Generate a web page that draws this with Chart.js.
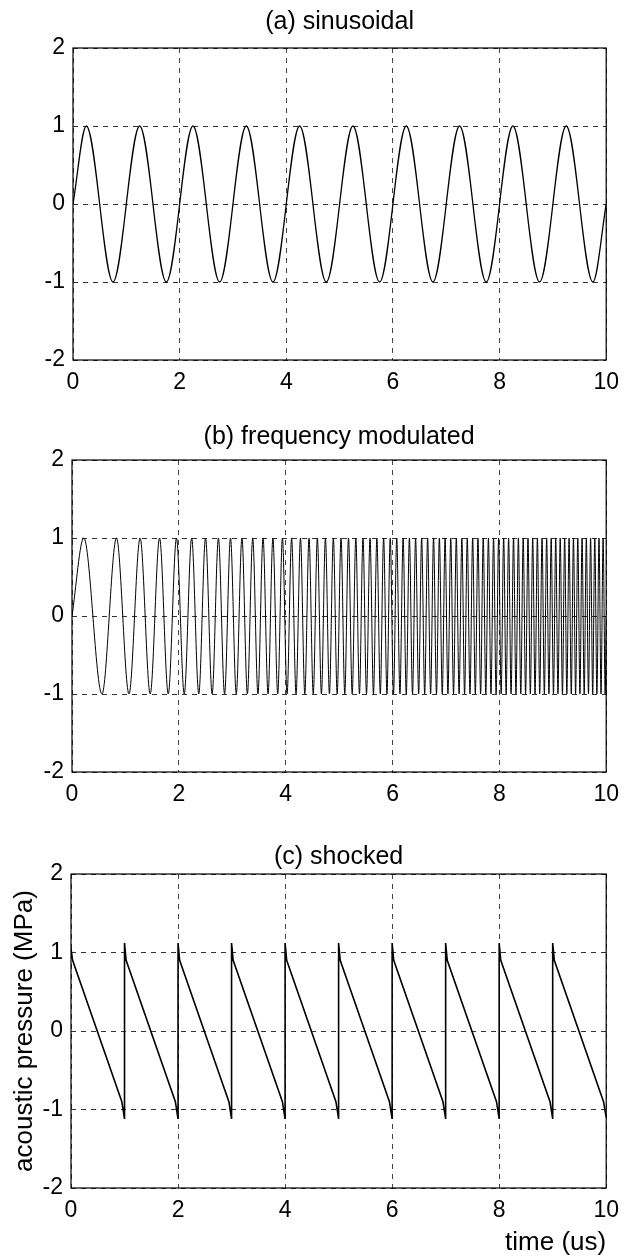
<!DOCTYPE html>
<html>
<head>
<meta charset="utf-8">
<script src="https://cdn.jsdelivr.net/npm/chart.js@4.4.1/dist/chart.umd.min.js"></script>
<style>
html,body{margin:0;padding:0;background:#fff;}
body{width:628px;height:1256px;position:relative;overflow:hidden;}
canvas{position:absolute;left:0;}
</style>
</head>
<body>
<canvas id="chartA" style="top:0px" width="628" height="410"></canvas>
<canvas id="chartB" style="top:410px" width="628" height="420"></canvas>
<canvas id="chartC" style="top:826px" width="628" height="430"></canvas>
<script>
// ---------- data ----------
const panelTitles = ['(a) sinusoidal', '(b) frequency modulated', '(c) shocked'];
const xAxisTitle = 'time (us)';
const yAxisTitle = 'acoustic pressure (MPa)';
const xTickValues = [0, 2, 4, 6, 8, 10];
const yTickValues = [-2, -1, 0, 1, 2];

// (a) sinusoidal: extrema of the 1 MHz wave (time in us, pressure in MPa)
const timeA = [0, 0.25, 0.75, 1.25, 1.75, 2.25, 2.75, 3.25, 3.75, 4.25, 4.75,
  5.25, 5.75, 6.25, 6.75, 7.25, 7.75, 8.25, 8.75, 9.25, 9.75, 10];
const pressureA = [0, 1, -1, 1, -1, 1, -1, 1, -1, 1, -1,
  1, -1, 1, -1, 1, -1, 1, -1, 1, -1, 0];

// (b) frequency modulated: extrema of the chirp
const timeB = [0, 0.221, 0.561, 0.833, 1.067, 1.275, 1.464, 1.639, 1.802, 1.956, 2.101,
  2.240, 2.373, 2.500, 2.623, 2.741, 2.856, 2.967, 3.075, 3.181, 3.283,
  3.383, 3.481, 3.576, 3.670, 3.761, 3.851, 3.939, 4.026, 4.111, 4.194,
  4.277, 4.358, 4.437, 4.516, 4.593, 4.669, 4.744, 4.819, 4.892, 4.964,
  5.036, 5.106, 5.176, 5.245, 5.313, 5.381, 5.447, 5.513, 5.579, 5.643,
  5.707, 5.771, 5.833, 5.896, 5.957, 6.018, 6.079, 6.139, 6.198, 6.257,
  6.316, 6.374, 6.432, 6.489, 6.545, 6.602, 6.657, 6.713, 6.768, 6.823,
  6.877, 6.931, 6.984, 7.037, 7.090, 7.142, 7.194, 7.246, 7.298, 7.349,
  7.399, 7.450, 7.500, 7.550, 7.599, 7.649, 7.698, 7.746, 7.795, 7.843,
  7.891, 7.939, 7.986, 8.033, 8.080, 8.127, 8.173, 8.219, 8.265, 8.311,
  8.356, 8.401, 8.446, 8.491, 8.536, 8.580, 8.624, 8.668, 8.712, 8.755,
  8.799, 8.842, 8.885, 8.928, 8.970, 9.013, 9.055, 9.097, 9.139, 9.181,
  9.222, 9.263, 9.305, 9.346, 9.387, 9.427, 9.468, 9.508, 9.548, 9.588,
  9.628, 9.668, 9.708, 9.747, 9.786, 9.826, 9.865, 9.903, 9.942, 9.981, 10];
const pressureB = [0, 1, -1, 1, -1, 1, -1, 1, -1, 1, -1,
  1, -1, 1, -1, 1, -1, 1, -1, 1, -1,
  1, -1, 1, -1, 1, -1, 1, -1, 1, -1,
  1, -1, 1, -1, 1, -1, 1, -1, 1, -1,
  1, -1, 1, -1, 1, -1, 1, -1, 1, -1,
  1, -1, 1, -1, 1, -1, 1, -1, 1, -1,
  1, -1, 1, -1, 1, -1, 1, -1, 1, -1,
  1, -1, 1, -1, 1, -1, 1, -1, 1, -1,
  1, -1, 1, -1, 1, -1, 1, -1, 1, -1,
  1, -1, 1, -1, 1, -1, 1, -1, 1, -1,
  1, -1, 1, -1, 1, -1, 1, -1, 1, -1,
  1, -1, 1, -1, 1, -1, 1, -1, 1, -1,
  1, -1, 1, -1, 1, -1, 1, -1, 1, -1,
  1, -1, 1, -1, 1, -1, 1, -1, 1, -1, 0];

// (c) shocked: sawtooth with shock fronts every 1 us
const timeC = [0, 0.03, 0.95, 1, 1, 1.03, 1.95, 2, 2, 2.03, 2.95, 3, 3, 3.03,
  3.95, 4, 4, 4.03, 4.95, 5, 5, 5.03, 5.95, 6, 6, 6.03, 6.95, 7, 7, 7.03,
  7.95, 8, 8, 8.03, 8.95, 9, 9, 9.03, 9.95, 10];
const pressureC = [1.05, 0.9, -0.9, -1.12, 1.12, 0.9, -0.9, -1.12, 1.12, 0.9, -0.9, -1.12, 1.12, 0.9,
  -0.9, -1.12, 1.12, 0.9, -0.9, -1.12, 1.12, 0.9, -0.9, -1.12, 1.12, 0.9, -0.9, -1.12, 1.12, 0.9,
  -0.9, -1.12, 1.12, 0.9, -0.9, -1.12, 1.12, 0.9, -0.9, -1.1];

// ---------- chart building ----------
const FONT = "'Liberation Sans', Arial, Helvetica, sans-serif";
Chart.defaults.font.family = FONT;
Chart.defaults.color = '#000';

// frame around the plot area + panel title centred over the plot area
const framePlugin = {
  id: 'frame',
  afterDraw(chart, args, opts) {
    const {ctx, chartArea: a} = chart;
    ctx.save();
    ctx.strokeStyle = '#000';
    ctx.lineWidth = 1.2;
    ctx.strokeRect(a.left, a.top, a.right - a.left, a.bottom - a.top);
    ctx.fillStyle = '#000';
    ctx.font = '25px ' + FONT;
    ctx.textAlign = 'center';
    ctx.textBaseline = 'middle';
    ctx.fillText(opts.text, (a.left + a.right) / 2, opts.y);
    ctx.restore();
  }
};

function makePanel(id, times, values, cfg) {
  const pts = times.map((t, i) => ({x: t, y: values[i]}));
  return new Chart(document.getElementById(id), {
    type: 'line',
    data: {datasets: [{
      data: pts,
      borderColor: '#000',
      borderWidth: cfg.lineWidth,
      pointRadius: 0,
      fill: false,
      cubicInterpolationMode: cfg.smooth ? 'monotone' : 'default',
      tension: 0
    }]},
    options: {
      responsive: false,
      animation: false,
      events: [],
      layout: {padding: cfg.padding},
      plugins: {
        legend: {display: false},
        tooltip: {enabled: false},
        title: {display: false},
        frame: {text: cfg.title, y: cfg.titleY}
      },
      scales: {
        x: {
          type: 'linear',
          min: 0, max: 10,
          afterBuildTicks: s => { s.ticks = xTickValues.map(v => ({value: v})); },
          afterFit: s => { s.height = cfg.xHeight; },
          ticks: {font: {family: FONT, size: 23}, color: '#000', padding: 9, maxRotation: 0},
          grid: {color: '#444', lineWidth: 1, drawTicks: false},
          border: {display: false, dash: [5, 5]},
          title: cfg.xTitle ? {
            display: true, text: cfg.xTitle, align: 'end', color: '#000',
            font: {family: FONT, size: 26, lineHeight: 1}, padding: {top: 0, bottom: 0}
          } : {display: false}
        },
        y: {
          type: 'linear',
          min: -2, max: 2,
          afterBuildTicks: s => { s.ticks = yTickValues.map(v => ({value: v})); },
          afterFit: s => { s.width = cfg.yWidth; },
          ticks: {font: {family: FONT, size: 23}, color: '#000', padding: 8},
          grid: {color: '#333', lineWidth: 1, drawTicks: false},
          border: {display: false, dash: [5, 5]},
          title: cfg.yTitle ? {
            display: true, text: cfg.yTitle, color: '#000',
            font: {family: FONT, size: 26, lineHeight: 1}, padding: {top: 12, bottom: 0}
          } : {display: false}
        }
      }
    },
    plugins: [framePlugin]
  });
}

makePanel('chartA', timeA, pressureA, {
  title: panelTitles[0], titleY: 22, smooth: true, lineWidth: 1.3,
  padding: {top: 48, left: 0, right: 15, bottom: 10},
  xHeight: 40, yWidth: 73
});
makePanel('chartB', timeB, pressureB, {
  title: panelTitles[1], titleY: 27, smooth: true, lineWidth: 1,
  padding: {top: 50, left: 0, right: 16, bottom: 18},
  xHeight: 40, yWidth: 72
});
makePanel('chartC', timeC, pressureC, {
  title: panelTitles[2], titleY: 31, smooth: false, lineWidth: 1.6,
  padding: {top: 48, left: 0, right: 18, bottom: 0},
  xHeight: 68, yWidth: 71,
  xTitle: xAxisTitle, yTitle: yAxisTitle
});
</script>
</body>
</html>
